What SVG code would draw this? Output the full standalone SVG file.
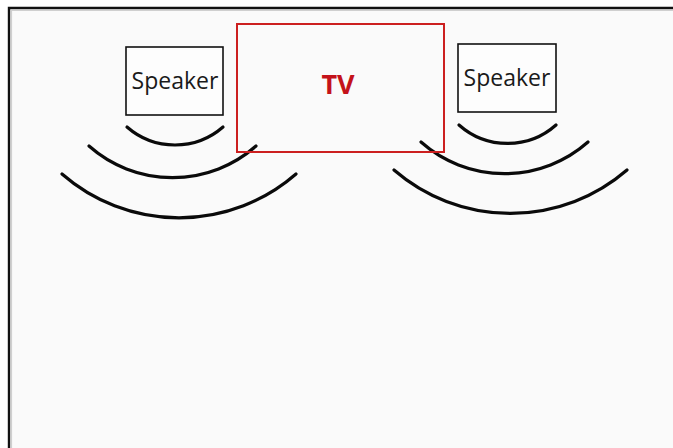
<svg xmlns="http://www.w3.org/2000/svg" width="673" height="448" viewBox="0 0 673 448">
  <defs>
    <style>
      .frame { stroke: #111; stroke-width: 2.4; fill: none; }
      .frame-inner { stroke: #cfcfcf; stroke-width: 1.2; fill: none; }
      .spk-box { fill: #fdfdfd; stroke: #111; stroke-width: 1.6; }
      .spk-label { font-family: "Open Sans", "Liberation Sans", sans-serif; font-size: 23px; fill: #1a1a1a; text-anchor: middle; }
      .tv-box { fill: none; stroke: #cc1f1f; stroke-width: 2; }
      .tv-label { font-family: "Open Sans", "Liberation Sans", sans-serif; font-size: 27px; font-weight: bold; fill: #c4121a; text-anchor: middle; }
      .wave { fill: none; stroke: #0a0a0a; stroke-width: 3.2; stroke-linecap: round; }
    </style>
  </defs>

  <!-- canvas -->
  <rect x="0" y="0" width="673" height="448" fill="#ffffff"/>
  <rect x="9" y="8" width="664" height="440" fill="#fafafa"/>
  <path class="frame-inner" d="M11.5 448 V10.5 H673"/>
  <path class="frame" d="M9 448 V8 H673"/>

  <!-- sound waves -->
  <g id="connectors">
    <g id="waves-left">
      <path class="wave" d="M127 127 A73 73 0 0 0 223 127"/>
      <path class="wave" d="M89 146 A126 126 0 0 0 256 146"/>
      <path class="wave" d="M62 174 A178 178 0 0 0 296 174"/>
    </g>
    <g id="waves-right">
      <path class="wave" d="M459 125 A73 73 0 0 0 556 125"/>
      <path class="wave" d="M421 142 A126 126 0 0 0 588 142"/>
      <path class="wave" d="M394 170 A178 178 0 0 0 627 170"/>
    </g>
  </g>

  <!-- TV -->
  <g id="tv">
    <rect class="tv-box" x="237" y="24" width="207" height="128"/>
    <text class="tv-label" x="338" y="94">TV</text>
  </g>

  <!-- speakers -->
  <g id="speaker-left">
    <rect class="spk-box" x="126" y="47" width="97" height="68"/>
    <text class="spk-label" x="175" y="89">Speaker</text>
  </g>
  <g id="speaker-right">
    <rect class="spk-box" x="458" y="44" width="98" height="68"/>
    <text class="spk-label" x="507" y="86">Speaker</text>
  </g>
</svg>
